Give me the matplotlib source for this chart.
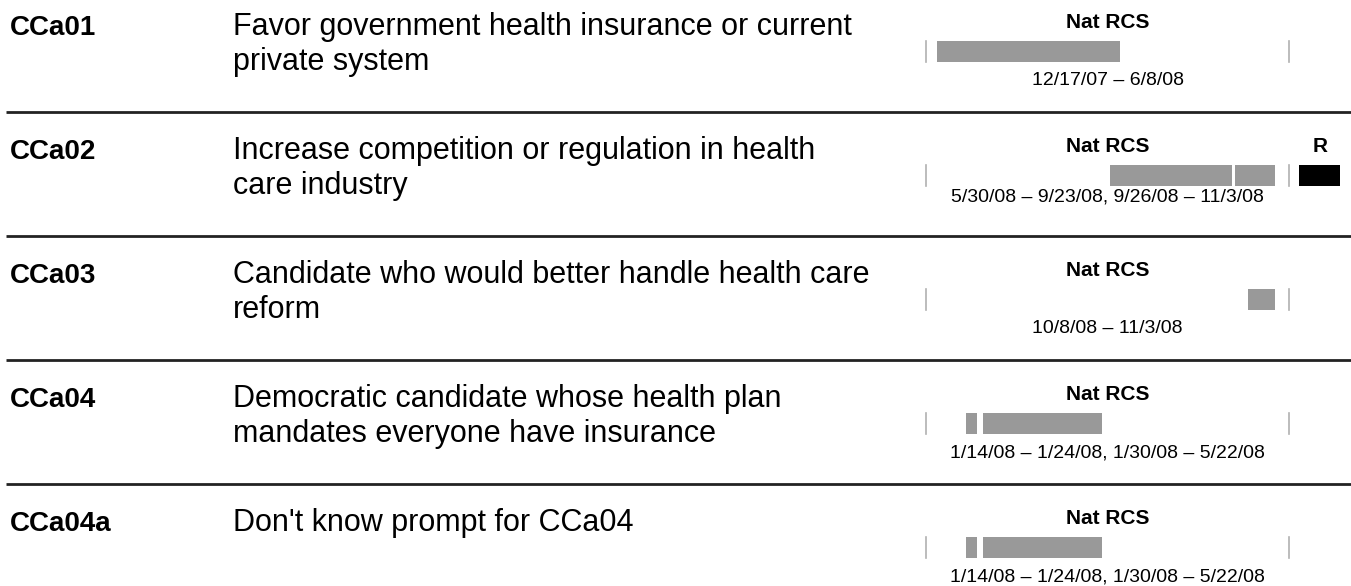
import datetime as dt
import matplotlib
matplotlib.use("Agg")
import matplotlib.pyplot as plt
import matplotlib.dates as mdates

plt.rcParams['font.family'] = ['Liberation Sans', 'DejaVu Sans']

codes = ["CCa01", "CCa02", "CCa03", "CCa04", "CCa04a"]
descriptions = [
    ["Favor government health insurance or current", "private system"],
    ["Increase competition or regulation in health", "care industry"],
    ["Candidate who would better handle health care", "reform"],
    ["Democratic candidate whose health plan", "mandates everyone have insurance"],
    ["Don't know prompt for CCa04"],
]
nat_periods = [
    [("2007-12-17", "2008-06-08")],
    [("2008-05-30", "2008-09-23"), ("2008-09-26", "2008-11-03")],
    [("2008-10-08", "2008-11-03")],
    [("2008-01-14", "2008-01-24"), ("2008-01-30", "2008-05-22")],
    [("2008-01-14", "2008-01-24"), ("2008-01-30", "2008-05-22")],
]
has_r = [False, True, False, False, False]
timeline_start = "2007-12-07"
timeline_end = "2008-11-16"

W, H = 1351, 586
fig = plt.figure(figsize=(W / 100, H / 100), dpi=100)
bg = fig.add_axes([0, 0, 1, 1])
bg.set_xlim(0, W)
bg.set_ylim(H, 0)
bg.axis('off')

def d(s):
    return mdates.date2num(dt.datetime.strptime(s, "%Y-%m-%d"))

def fmt(s):
    t = dt.datetime.strptime(s, "%Y-%m-%d")
    return f"{t.month}/{t.day}/{t.strftime('%y')}"

row_h = 124
x0, x1 = 926, 1289
xc = (x0 + x1) / 2
for i, code in enumerate(codes):
    top = -12 + row_h * i
    if i > 0:
        bg.plot([6, W], [top, top], color='#222222', lw=2, solid_capstyle='butt')
    bg.text(10, top + 47, code, fontsize=20, fontweight='bold', va='baseline', ha='left')
    for k, line in enumerate(descriptions[i]):
        bg.text(233, top + 47 + 35 * k, line, fontsize=22, va='baseline', ha='left')

    bg.text(xc, top + 40, "Nat RCS", fontsize=15, fontweight='bold', ha='center', va='baseline')
    label = ", ".join(f"{fmt(a)} \u2013 {fmt(b)}" for a, b in nat_periods[i])
    bg.text(xc, top + (89 if has_r[i] else 97), label, fontsize=14, ha='center', va='baseline')

    ax = fig.add_axes([x0 / W, 1 - (top + 74) / H, (x1 - x0) / W, 21 / H])
    ax.set_xlim(d(timeline_start), d(timeline_end))
    ax.set_ylim(0, 1)
    ax.axis('off')
    spans = [(d(a), d(b) - d(a)) for a, b in nat_periods[i]]
    ax.broken_barh(spans, (0, 1), facecolors='#999999')
    for xv in ax.get_xlim():
        ax.axvline(xv, color='#b0b0b0', lw=1.2, clip_on=False)

    if has_r[i]:
        bg.text(1320, top + 40, "R", fontsize=15, fontweight='bold', ha='center', va='baseline')
        rax = fig.add_axes([1299 / W, 1 - (top + 74) / H, 41 / W, 21 / H])
        rax.set_xlim(0, 1)
        rax.set_ylim(0, 1)
        rax.axis('off')
        rax.broken_barh([(0, 1)], (0, 1), facecolors='black')

fig.savefig("out.png", dpi=100)
